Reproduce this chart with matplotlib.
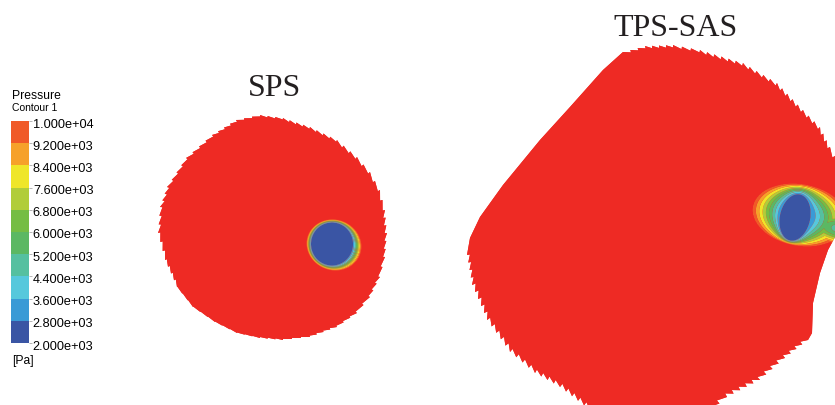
import numpy as np
import matplotlib.pyplot as plt
import matplotlib.transforms as mtransforms
from matplotlib.colors import ListedColormap, BoundaryNorm
from matplotlib.patches import Polygon
from matplotlib.cm import ScalarMappable

# Contour levels [Pa] and band colours (low -> high)
levels = [2000, 2800, 3600, 4400, 5200, 6000, 6800, 7600, 8400, 9200, 10000]
band_colors = ['#3a55a4', '#3a9ad6', '#56c8dc', '#55c0a0', '#5bb863',
               '#75bd44', '#b1cd3a', '#efe629', '#f6a12a', '#f05a28']
over_color = '#ee2a24'

titles = ['SPS', 'TPS-SAS']

# Section outlines (pixel coords) and saw-tooth depth of each edge
sps_x = [260, 283, 310, 337, 357, 370, 380, 385, 387, 385, 380, 370, 357, 337,
         310, 283, 260, 237, 215, 193, 177, 165, 158, 160, 167, 186, 212, 236]
sps_y = [115, 118, 127, 140, 157, 172, 190, 210, 233, 257, 277, 297, 313, 327,
         337, 340, 338, 333, 322, 307, 287, 260, 233, 207, 187, 158, 135, 120]
sps_teeth = [1.5, 2, 2, 2.5, 2.5, 2.5, 2.5, 2.5, 2, 2, 2, 2, 1.5, 1.5,
             1, 1, 0.5, 0.5, 0.5, 0.5, 2, 2.5, 2.5, 2.5, 2, 2, 2, 1.5]

tps_x = [603, 623, 645, 673, 700, 743, 777, 803, 820, 830, 840, 845, 840, 828,
         820, 813, 812, 808, 785, 760, 727, 712, 590, 560, 535, 510, 487, 472,
         467, 470, 480, 503, 540, 570]
tps_y = [70, 52, 46, 45, 50, 63, 83, 110, 127, 147, 165, 200, 228, 250,
         273, 303, 333, 340, 358, 380, 397, 410, 410, 387, 373, 352, 320, 285,
         255, 238, 217, 185, 140, 107]
tps_teeth = [0, 2.5, 2.5, 2.5, 3, 3, 3, 3, 3, 3, 0, 0, 0, 0,
             0, 0, 0, 3.5, 4, 4, 4, 0, 4, 4, 4, 4, 4, 3,
             0, 0, 0, 0, 0, 0]

# Vortex cores: ellipses (cx, cy, a, b, angle) of the 2800 Pa isoline and
# of the 10000 Pa isoline
sps_core = (332, 244, 21, 21.5, 0)
sps_outer = (334, 245, 28, 25.5, 20)
tps_core = (795, 217.5, 15, 23.5, 12)
tps_outer = (800, 215, 48, 31, 10)
# TPS-SAS wake behind the vortex: 10000 Pa ellipse and centre-line pressure
tps_wake = (850, 230, 50, 16, 8)
wake_min = 4400


def ell_dist(X, Y, e):
    cx, cy, a, b, ang = e
    t = np.radians(ang)
    dx, dy = X - cx, Y - cy
    u = (dx * np.cos(t) + dy * np.sin(t)) / a
    v = (-dx * np.sin(t) + dy * np.cos(t)) / b
    return np.hypot(u, v)


def vortex_pressure(X, Y, core, outer):
    # linear ramp in radius between the core and the outer isoline
    dc = ell_dist(X, Y, core)
    do = ell_dist(X, Y, outer)
    den = np.maximum(dc - do, 1e-6)
    t = np.where(dc < 1, (dc - 1) * 2, do * (dc - 1) / den)
    t = np.where(do >= 1, 1.05, t)
    return levels[1] + (levels[-1] - levels[1]) * t


def wake_pressure(X, Y, wake, pmin):
    d = ell_dist(X, Y, wake)
    return pmin + (levels[-1] - pmin) * d ** 2


def saw_outline(xs, ys, teeth, step=7.0):
    pts = np.column_stack([xs, ys]).astype(float)
    cen = pts.mean(axis=0)
    out = []
    n = len(pts)
    for i in range(n):
        p0, p1 = pts[i], pts[(i + 1) % n]
        seg = p1 - p0
        L = np.hypot(*seg)
        nrm = np.array([seg[1], -seg[0]]) / L
        if np.dot((p0 + p1) / 2 - cen, nrm) < 0:
            nrm = -nrm
        k = max(int(L // step), 1)
        for j in range(k):
            a = p0 + seg * j / k
            b = p0 + seg * (j + 1) / k
            out.append(a)
            if teeth[i] > 0:
                out.append(b - nrm * teeth[i])
    return np.array(out)


fig = plt.figure(figsize=(8.35, 4.05), dpi=100)
ax = fig.add_axes([0, 0, 1, 1])
ax.set_xlim(0, 835)
ax.set_ylim(405, 0)
ax.axis('off')

cmap = ListedColormap(band_colors)
cmap.set_over(over_color)
norm = BoundaryNorm(levels, cmap.N)

gx = np.arange(140, 836, 0.5)
gy = np.arange(0, 406, 0.5)
X, Y = np.meshgrid(gx, gy)
P = np.minimum.reduce([vortex_pressure(X, Y, sps_core, sps_outer),
                       vortex_pressure(X, Y, tps_core, tps_outer),
                       wake_pressure(X, Y, tps_wake, wake_min)])
P = np.clip(P, levels[0] + 1, 10500)

for xs, ys, teeth in [(sps_x, sps_y, sps_teeth), (tps_x, tps_y, tps_teeth)]:
    patch = Polygon(saw_outline(xs, ys, teeth), closed=True,
                    facecolor=over_color, edgecolor='none')
    ax.add_patch(patch)
    cs = ax.contourf(X, Y, P, levels=levels, cmap=cmap, norm=norm,
                     extend='max', antialiased=True)
    cs.set_clip_path(patch)

ax.text(275, 88, titles[0], family='Liberation Serif', fontsize=23,
        color='#231f20', ha='center', va='center')
ax.text(676, 28, titles[1], family='Liberation Serif', fontsize=23,
        color='#231f20', ha='center', va='center')

# Legend
lf = 'Liberation Sans'
ax.text(12, 96, 'Pressure', family=lf, fontsize=8.7, ha='left', va='center')
ax.text(12, 108, 'Contour 1', family=lf, fontsize=7.5, ha='left', va='center')
ax.text(12, 361, '[Pa]', family=lf, fontsize=8.7, ha='left', va='center')

cax = fig.add_axes([11.3 / 835, 1 - 343 / 405, 17.4 / 835, 222 / 405])
cb = fig.colorbar(ScalarMappable(norm=norm, cmap=cmap), cax=cax, ticks=levels)
cb.outline.set_visible(False)
cb.ax.set_yticklabels(['{:.3e}'.format(v) for v in levels])
cb.ax.tick_params(length=2, width=0.5, color='#999999', pad=1, labelsize=9.2)
shift = mtransforms.ScaledTranslation(0, -2 / 100, fig.dpi_scale_trans)
for lab in cb.ax.get_yticklabels():
    lab.set_family(lf)
    lab.set_transform(lab.get_transform() + shift)

fig.savefig('out.png', dpi=100)
